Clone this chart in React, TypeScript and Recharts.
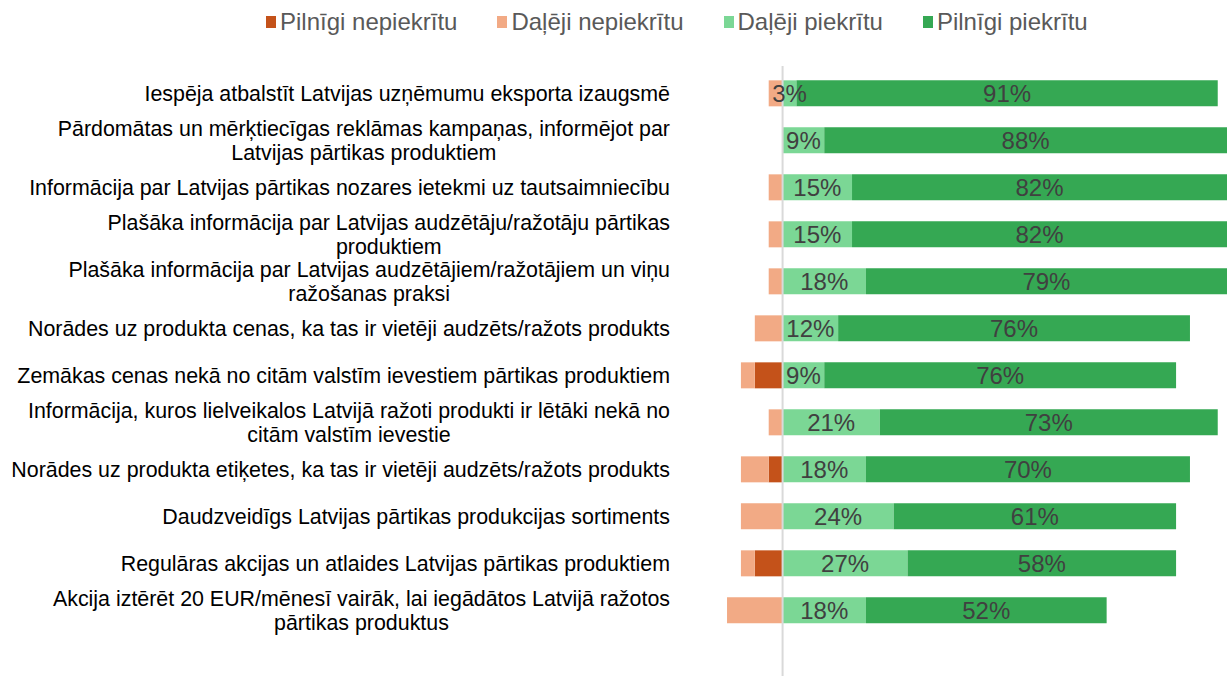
import { BarChart, Bar, XAxis, YAxis, Legend, LabelList, ReferenceLine } from "recharts";

const categories = [
  "Iespēja atbalstīt Latvijas uzņēmumu eksporta izaugsmē",
  "Pārdomātas un mērķtiecīgas reklāmas kampaņas, informējot par\nLatvijas pārtikas produktiem",
  "Informācija par Latvijas pārtikas nozares ietekmi uz tautsaimniecību",
  "Plašāka informācija par Latvijas audzētāju/ražotāju pārtikas\nproduktiem",
  "Plašāka informācija par Latvijas audzētājiem/ražotājiem un viņu\nražošanas praksi",
  "Norādes uz produkta cenas, ka tas ir vietēji audzēts/ražots produkts",
  "Zemākas cenas nekā no citām valstīm ievestiem pārtikas produktiem",
  "Informācija, kuros lielveikalos Latvijā ražoti produkti ir lētāki nekā no\ncitām valstīm ievestie",
  "Norādes uz produkta etiķetes, ka tas ir vietēji audzēts/ražots produkts",
  "Daudzveidīgs Latvijas pārtikas produkcijas sortiments",
  "Regulāras akcijas un atlaides Latvijas pārtikas produktiem",
  "Akcija iztērēt 20 EUR/mēnesī vairāk, lai iegādātos Latvijā ražotos\npārtikas produktus",
];

// percentages
const fullyDisagree = [0, 0, 0, 0, 0, 0, 6, 0, 3, 0, 6, 0];
const partlyDisagree = [3, 0, 3, 3, 3, 6, 3, 3, 6, 9, 3, 12];
const partlyAgree = [3, 9, 15, 15, 18, 12, 9, 21, 18, 24, 27, 18];
const fullyAgree = [91, 88, 82, 82, 79, 76, 76, 73, 70, 61, 58, 52];

const series = [
  { key: "fullyDisagree", name: "Pilnīgi nepiekrītu", color: "#C4521A" },
  { key: "partlyDisagree", name: "Daļēji nepiekrītu", color: "#F2AA85" },
  { key: "partlyAgree", name: "Daļēji piekrītu", color: "#7BD795" },
  { key: "fullyAgree", name: "Pilnīgi piekrītu", color: "#35A853" },
];

const data = categories.map((name, i) => ({
  name,
  fullyDisagree: -fullyDisagree[i],
  partlyDisagree: -partlyDisagree[i],
  partlyAgree: partlyAgree[i],
  fullyAgree: fullyAgree[i],
}));

const FONT = "'Liberation Sans', Arial, sans-serif";
const TICK_SIZE = 21.4;

let ctx: CanvasRenderingContext2D | null = null;
function textWidth(s: string, size: number) {
  if (!ctx) ctx = document.createElement("canvas").getContext("2d");
  if (!ctx) return s.length * size * 0.5;
  ctx.font = `${size}px 'Liberation Sans'`;
  return ctx.measureText(s).width;
}

function CategoryTick(props: any) {
  const { x, y, payload } = props;
  const lines: string[] = String(payload.value).split("\n");
  const w = Math.max(...lines.map((l) => textWidth(l, TICK_SIZE)));
  const cx = x - w / 2;
  const lh = 24;
  const start = y - ((lines.length - 1) * lh) / 2;
  return (
    <text x={cx} y={start} textAnchor="middle" fill="#000" fontSize={TICK_SIZE} fontFamily={FONT} dominantBaseline="central">
      {lines.map((l, i) => (
        <tspan key={i} x={cx} y={start + i * lh}>
          {l}
        </tspan>
      ))}
    </text>
  );
}

function LegendContent() {
  return (
    <div style={{ display: "flex", gap: 40, height: 28, lineHeight: "28px", fontFamily: FONT, fontSize: 24, color: "#595959" }}>
      {series.map((s) => (
        <div key={s.key} style={{ display: "flex", alignItems: "center" }}>
          <span style={{ width: 10, height: 12, background: s.color, marginRight: 4, display: "inline-block" }} />
          <span>{s.name}</span>
        </div>
      ))}
    </div>
  );
}

const pct = (v: any) => (v ? `${Math.abs(v)}%` : "");

export default function App() {
  return (
    <div style={{ position: "absolute", left: 0, top: 0 }}>
      <BarChart
        width={1227}
        height={676}
        data={data}
        layout="vertical"
        stackOffset="sign"
        barCategoryGap="22%"
        margin={{ top: 38, right: 0, bottom: 0, left: 0 }}
      >
        <Legend verticalAlign="top" content={<LegendContent />} wrapperStyle={{ top: 8, left: 266, width: "auto" }} />
        <XAxis type="number" domain={[-20, 96]} allowDataOverflow hide />
        <YAxis
          type="category"
          dataKey="name"
          width={690}
          axisLine={false}
          tickLine={false}
          tickSize={0}
          tickMargin={20}
          interval={0}
          padding={{ top: 4, bottom: 42 }}
          tick={<CategoryTick />}
        />
        <ReferenceLine x={0} stroke="#D9D9D9" strokeWidth={2} />
        {series.map((s, idx) => (
          <Bar key={s.key} dataKey={s.key} name={s.name} stackId="a" fill={s.color} isAnimationActive={false}>
            {idx >= 2 && (
              <LabelList dataKey={s.key} position="center" formatter={pct} fill="#404040" fontSize={24} fontFamily={FONT} />
            )}
          </Bar>
        ))}
      </BarChart>
    </div>
  );
}
